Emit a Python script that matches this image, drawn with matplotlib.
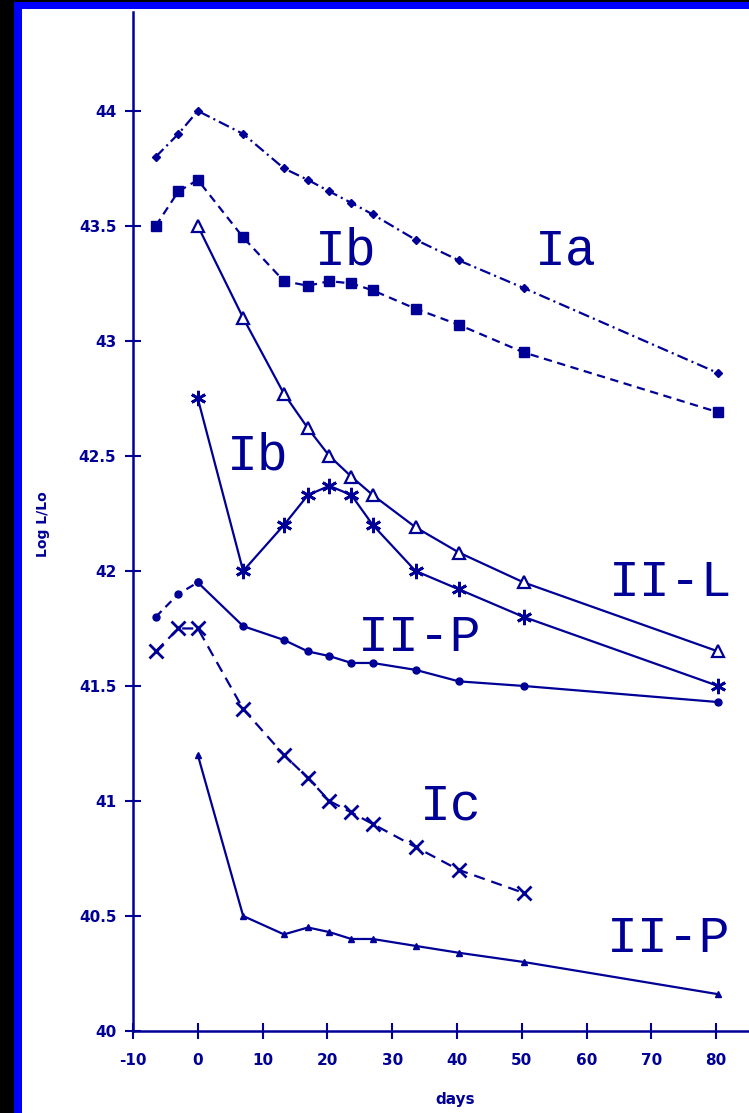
import matplotlib
matplotlib.use('Agg')
import matplotlib.pyplot as plt
from matplotlib.patches import Rectangle

NAVY = '#000096'
plt.rcParams['lines.scale_dashes'] = False
plt.rcParams['axes.unicode_minus'] = False

# days after maximum
DAYS = [-6.5, -3, 0, 7, 13.3, 17, 20.3, 23.7, 27, 33.6, 40.3, 50.3, 80.3]

ia = [43.80, 43.90, 44.00, 43.90, 43.75, 43.70, 43.65, 43.60, 43.55, 43.44, 43.35, 43.23, 42.86]
ib_top = [43.50, 43.65, 43.70, 43.45, 43.26, 43.24, 43.26, 43.25, 43.22, 43.14, 43.07, 42.95, 42.69]
iil = [43.50, 43.10, 42.77, 42.62, 42.50, 42.41, 42.33, 42.19, 42.08, 41.95, 41.65]
ib_low = [42.75, 42.00, 42.20, 42.33, 42.37, 42.33, 42.20, 42.00, 41.92, 41.80, 41.50]
iip_top = [41.80, 41.90, 41.95, 41.76, 41.70, 41.65, 41.63, 41.60, 41.60, 41.57, 41.52, 41.50, 41.43]
ic = [41.65, 41.75, 41.75, 41.40, 41.20, 41.10, 41.00, 40.95, 40.90, 40.80, 40.70, 40.60]
iip_low = [41.20, 40.50, 40.42, 40.45, 40.43, 40.40, 40.40, 40.37, 40.34, 40.30, 40.16]

LABELS = [('Ia', 56.8, 43.39), ('Ib', 22.9, 43.39), ('Ib', 9.3, 42.50),
          ('II-L', 72.9, 41.95), ('II-P', 34.2, 41.71), ('Ic', 39.1, 40.98),
          ('II-P', 72.6, 40.40)]

XTICKS = [-10, 0, 10, 20, 30, 40, 50, 60, 70, 80]
YTICKS = [40, 40.5, 41, 41.5, 42, 42.5, 43, 43.5, 44]
YTICKLABELS = ['40', '40.5', '41', '41.5', '42', '42.5', '43', '43.5', '44']

W, H = 749, 1113
fig = plt.figure(figsize=(W / 100, H / 100), dpi=100, facecolor='black')
# blue frame + white page
fig.patches.append(Rectangle((14 / W, 0), 1, 1 - 1.5 / H, transform=fig.transFigure,
                             facecolor='#0000ff', edgecolor='none', zorder=-10))
fig.patches.append(Rectangle((22 / W, 0), 1, 1 - 8.5 / H, transform=fig.transFigure,
                             facecolor='white', edgecolor='none', zorder=-9))

ax = fig.add_axes([133 / W, (H - 1031) / H, (W - 133) / W, (1031 - 12) / H])
ax.set_zorder(5)
ax.set_facecolor('none')
ax.set_xlim(-10, 85.06)
ax.set_ylim(40, 44.43)

lw = 1.6
ax.plot(DAYS, ia, color=NAVY, lw=lw, ls=(0, (8, 3, 1.5, 3)), marker='D', ms=4)
ax.plot(DAYS, ib_top, color=NAVY, lw=lw, ls=(0, (6, 4)), marker='s', ms=7)
ax.plot(DAYS[2:], iil, color=NAVY, lw=lw, marker='^', ms=9, mfc='white', mew=1.6)
ax.plot(DAYS[2:], ib_low, color=NAVY, lw=lw, marker=(6, 2, 0), ms=11, mew=2)
ax.plot(DAYS[:3], iip_top[:3], color=NAVY, lw=lw, ls=(0, (6, 4)), marker='o', ms=5)
ax.plot(DAYS[2:], iip_top[2:], color=NAVY, lw=lw, marker='o', ms=5)
ax.plot(DAYS[:12], ic, color=NAVY, lw=lw, ls=(0, (8, 5)), marker='x', ms=10, mew=2)
ax.plot(DAYS[2:], iip_low, color=NAVY, lw=lw, marker='^', ms=5)

for txt, x, y in LABELS:
    ax.text(x, y, txt, color=NAVY, fontsize=37, family='Liberation Mono',
            ha='center', va='center')

for s in ('top', 'right'):
    ax.spines[s].set_visible(False)
for s in ('left', 'bottom'):
    ax.spines[s].set_color(NAVY)
    ax.spines[s].set_linewidth(1.8)

ax.set_xticks(XTICKS)
ax.set_yticks(YTICKS)
ax.set_yticklabels(YTICKLABELS)
ax.tick_params(axis='both', direction='inout', length=12, width=1.5, color=NAVY,
               labelcolor=NAVY, labelsize=11)
ax.tick_params(axis='x', pad=10)
ax.tick_params(axis='y', pad=6)
for lab in ax.get_xticklabels() + ax.get_yticklabels():
    lab.set_fontweight('bold')

ax.set_xlabel('days', color=NAVY, fontsize=11, fontweight='bold')
ax.xaxis.set_label_coords(0.523, -0.06)
ax.set_ylabel('Log L/Lo', color=NAVY, fontsize=10, fontweight='bold')
ax.yaxis.set_label_coords(-0.135, 0.497)

fig.savefig('out.png', dpi=100, facecolor='black')
